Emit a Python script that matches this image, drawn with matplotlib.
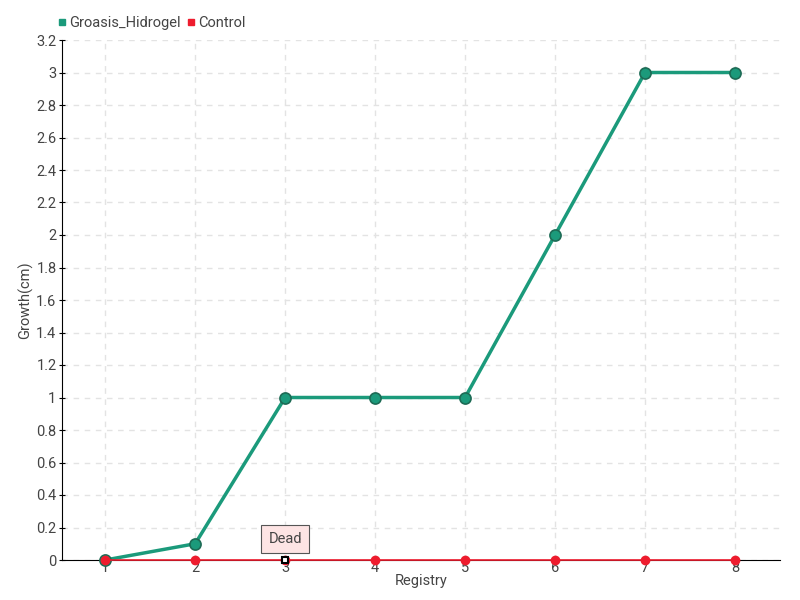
import matplotlib.pyplot as plt
from matplotlib.lines import Line2D

registry = [1, 2, 3, 4, 5, 6, 7, 8]
groasis = [0, 0.1, 1, 1, 1, 2, 3, 3]
control = [0, 0, 0, 0, 0, 0, 0, 0]
yticks = [0, 0.2, 0.4, 0.6, 0.8, 1, 1.2, 1.4, 1.6, 1.8, 2, 2.2, 2.4, 2.6, 2.8, 3, 3.2]
ylabels = ["0", "0.2", "0.4", "0.6", "0.8", "1", "1.2", "1.4", "1.6", "1.8",
           "2", "2.2", "2.4", "2.6", "2.8", "3", "3.2"]

plt.rcParams['font.family'] = ['Roboto', 'DejaVu Sans']
green = "#1b9a7b"
red = "#ee1c2e"
text_c = "#444444"

fig = plt.figure(figsize=(8, 6), dpi=100)
ax = fig.add_axes([62 / 800, 40 / 600, 718 / 800, 520 / 600])

ax.plot(registry, groasis, color=green, lw=2.5, marker="o", ms=8,
        markerfacecolor=green, markeredgecolor="#1d6b55", markeredgewidth=1.2,
        zorder=3, clip_on=False)
ax.plot(registry, control, color=red, lw=1.2, marker="o", ms=6,
        markerfacecolor=red, markeredgecolor=red, zorder=4, clip_on=False)
# dead marker on control at registry 3
ax.plot(registry[2], control[2], marker="s", ms=5, markerfacecolor="white",
        markeredgecolor="black", markeredgewidth=1.5, zorder=5, clip_on=False)
ax.annotate("Dead", xy=(registry[2], control[2]), xytext=(0, 15),
            textcoords="offset points", ha="center", va="center",
            fontsize=10.5, color=text_c,
            bbox=dict(boxstyle="square,pad=0.5", fc="#fde4e4", ec="#555555", lw=0.8),
            zorder=6)

ax.set_xlim(0.52, 8.5)
ax.set_ylim(0, 3.2)
ax.set_xticks(registry)
ax.set_xticklabels([str(r) for r in registry])
ax.set_yticks(yticks)
ax.set_yticklabels(ylabels)
ax.grid(True, color="#e3e3e3", linestyle=(0, (4, 4)), lw=1)
ax.set_axisbelow(True)
for s in ["top", "right"]:
    ax.spines[s].set_visible(False)
ax.spines["left"].set_color("black")
ax.spines["bottom"].set_color("black")
ax.tick_params(axis="y", length=4, direction="inout", labelsize=10.5, labelcolor=text_c, pad=2)
ax.tick_params(axis="x", length=0, labelsize=10.5, labelcolor=text_c, pad=1)
ax.set_xlabel("Registry", fontsize=10.5, color=text_c, labelpad=-1)
ax.set_ylabel("Growth(cm)", fontsize=10.5, color=text_c, labelpad=2)

handles = [Line2D([], [], color=green, marker="s", ls="", ms=4),
           Line2D([], [], color=red, marker="s", ls="", ms=4)]
fig.legend(handles, ["Groasis_Hidrogel", "Control"], loc="upper left",
           bbox_to_anchor=(44 / 800, 1 - 3 / 600), ncol=2, frameon=False,
           fontsize=10.5, handlelength=0.6, handletextpad=0.2, columnspacing=0.4,
           labelcolor=text_c)

fig.savefig("out.png", dpi=100)
